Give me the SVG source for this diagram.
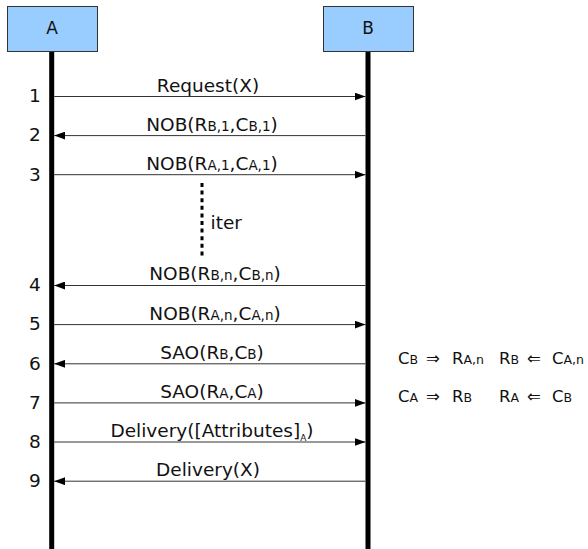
<svg xmlns="http://www.w3.org/2000/svg" width="588" height="549" viewBox="0 0 588 549">
<style>
text{font-family:"DejaVu Sans","Liberation Sans",sans-serif;fill:#111}
.box{fill:#99ccff;stroke:#333;stroke-width:1}
.life{stroke:#000;stroke-width:5}
.msg{stroke:#333;stroke-width:1;fill:none;marker-end:url(#ah)}
.lbl{font-size:18.5px;text-anchor:middle}
.num{font-size:18.5px;text-anchor:middle}
.s{font-size:13.5px}
.ann{font-size:16.5px}
.as{font-size:12.5px}
</style>
<defs>
<marker id="ah" viewBox="0 0 11 8" refX="11" refY="4" markerWidth="11" markerHeight="8" markerUnits="userSpaceOnUse" orient="auto">
<path d="M0,0 L11,4 L0,8 z" fill="#000"/>
</marker>
</defs>
<rect width="588" height="549" fill="#fff"/>
<g id="A">
<line class="life" x1="51.7" y1="51.5" x2="51.7" y2="549"/>
<rect class="box" x="7.5" y="6.5" width="90" height="45"/>
<text x="52" y="34.3" font-size="17" text-anchor="middle">A</text>
</g>
<g id="B">
<line class="life" x1="368" y1="51.5" x2="368" y2="549"/>
<rect class="box" x="323.5" y="6.5" width="90" height="45"/>
<text x="368" y="34.3" font-size="17" text-anchor="middle">B</text>
</g>
<g id="connectors">
<line class="msg" x1="54.2" y1="96.5" x2="365.5" y2="96.5"/>
<line class="msg" x1="365.5" y1="135.6" x2="54.2" y2="135.6"/>
<line class="msg" x1="54.2" y1="174.7" x2="365.5" y2="174.7"/>
<line x1="202" y1="183" x2="202" y2="259" stroke="#000" stroke-width="3" stroke-dasharray="4,3.6"/>
<line class="msg" x1="365.5" y1="285.5" x2="54.2" y2="285.5"/>
<line class="msg" x1="54.2" y1="324.6" x2="365.5" y2="324.6"/>
<line class="msg" x1="365.5" y1="363.8" x2="54.2" y2="363.8"/>
<line class="msg" x1="54.2" y1="402.9" x2="365.5" y2="402.9"/>
<line class="msg" x1="54.2" y1="442" x2="365.5" y2="442"/>
<line class="msg" x1="365.5" y1="481.2" x2="54.2" y2="481.2"/>
</g>
<g id="labels">
<text class="lbl" x="208" y="91.5">Request(X)</text>
<text class="lbl" x="212" y="130.5">NOB(R<tspan class="s">B,1</tspan>,C<tspan class="s">B,1</tspan>)</text>
<text class="lbl" x="212" y="169.6">NOB(R<tspan class="s">A,1</tspan>,C<tspan class="s">A,1</tspan>)</text>
<text x="210.5" y="228.5" font-size="18.5">iter</text>
<text class="lbl" x="215" y="280.4">NOB(R<tspan class="s">B,n</tspan>,C<tspan class="s">B,n</tspan>)</text>
<text class="lbl" x="215" y="319.5">NOB(R<tspan class="s">A,n</tspan>,C<tspan class="s">A,n</tspan>)</text>
<text class="lbl" x="212" y="358.7">SAO(R<tspan class="s">B</tspan>,C<tspan class="s">B</tspan>)</text>
<text class="lbl" x="212" y="397.8">SAO(R<tspan class="s">A</tspan>,C<tspan class="s">A</tspan>)</text>
<text class="lbl" x="212" y="436.9">Delivery([Attributes]<tspan font-size="9" dy="4">A</tspan><tspan dy="-4">)</tspan></text>
<text class="lbl" x="208" y="476.1">Delivery(X)</text>
</g>
<g id="numbers">
<text class="num" x="35" y="102.3">1</text>
<text class="num" x="35" y="141.4">2</text>
<text class="num" x="35" y="180.5">3</text>
<text class="num" x="35" y="291.3">4</text>
<text class="num" x="35" y="330.4">5</text>
<text class="num" x="35" y="369.6">6</text>
<text class="num" x="35" y="408.7">7</text>
<text class="num" x="35" y="447.8">8</text>
<text class="num" x="35" y="487">9</text>
</g>
<g id="annotations">
<text class="ann" y="363.6"><tspan x="398">C</tspan><tspan class="as">B</tspan><tspan x="426">⇒</tspan><tspan x="452">R</tspan><tspan class="as">A,n</tspan></text>
<text class="ann" y="363.6"><tspan x="499">R</tspan><tspan class="as">B</tspan><tspan x="527">⇐</tspan><tspan x="552">C</tspan><tspan class="as">A,n</tspan></text>
<text class="ann" y="402"><tspan x="398">C</tspan><tspan class="as">A</tspan><tspan x="426">⇒</tspan><tspan x="452">R</tspan><tspan class="as">B</tspan></text>
<text class="ann" y="402"><tspan x="499">R</tspan><tspan class="as">A</tspan><tspan x="527">⇐</tspan><tspan x="552">C</tspan><tspan class="as">B</tspan></text>
</g>
</svg>
